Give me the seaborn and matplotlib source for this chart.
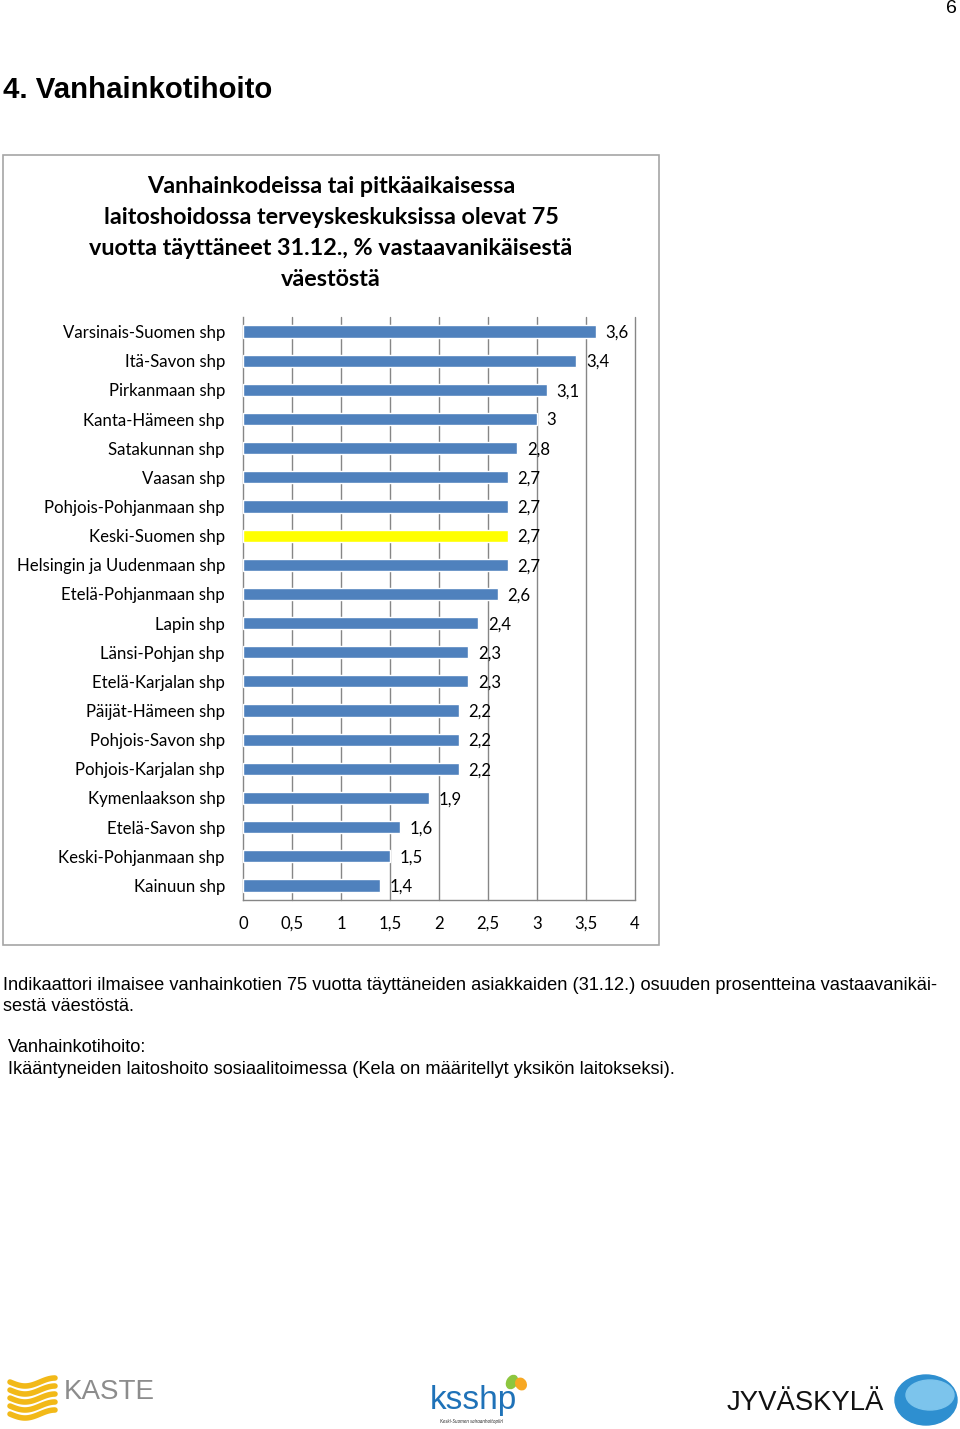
import numpy as np
import pandas as pd
import matplotlib
matplotlib.use("Agg")
import matplotlib.pyplot as plt
import seaborn as sns
from matplotlib.patches import Rectangle, Ellipse

sns.set_theme(style="white")
plt.rcParams['font.family'] = ['Lato', 'DejaVu Sans']

categories = ["Varsinais-Suomen shp", "Itä-Savon shp", "Pirkanmaan shp", "Kanta-Hämeen shp",
              "Satakunnan shp", "Vaasan shp", "Pohjois-Pohjanmaan shp", "Keski-Suomen shp",
              "Helsingin ja Uudenmaan shp", "Etelä-Pohjanmaan shp", "Lapin shp", "Länsi-Pohjan shp",
              "Etelä-Karjalan shp", "Päijät-Hämeen shp", "Pohjois-Savon shp", "Pohjois-Karjalan shp",
              "Kymenlaakson shp", "Etelä-Savon shp", "Keski-Pohjanmaan shp", "Kainuun shp"]
values = [3.6, 3.4, 3.1, 3.0, 2.8, 2.7, 2.7, 2.7, 2.7, 2.6, 2.4, 2.3, 2.3, 2.2, 2.2, 2.2, 1.9, 1.6, 1.5, 1.4]
highlight = "Keski-Suomen shp"
x_ticks = [0, 0.5, 1, 1.5, 2, 2.5, 3, 3.5, 4]
x_tick_labels = ["0", "0,5", "1", "1,5", "2", "2,5", "3", "3,5", "4"]

title_lines = ["Vanhainkodeissa tai pitkäaikaisessa",
               "laitoshoidossa terveyskeskuksissa olevat 75",
               "vuotta täyttäneet 31.12., % vastaavanikäisestä",
               "väestöstä"]

df = pd.DataFrame({"alue": categories, "arvo": values})
df["ryhma"] = np.where(df["alue"] == highlight, "korostus", "muu")

W, H = 960, 1429
fig = plt.figure(figsize=(W / 100, H / 100), dpi=100)
fig.patch.set_facecolor("white")

# overlay in pixel coordinates
ov = fig.add_axes([0, 0, 1, 1], zorder=0)
ov.set_xlim(0, W)
ov.set_ylim(H, 0)
ov.axis("off")

# chart frame
ov.add_patch(Rectangle((3, 155), 656, 790, fill=False, edgecolor="#A6A6A6", linewidth=1.2))

# page texts
ov.text(951, 8, "6", fontsize=14, family=["Liberation Sans"], ha="center", va="center", color="black")
ov.text(3, 90, "4. Vanhainkotihoito", fontsize=21.2, fontweight="bold", family=["Liberation Sans"],
        ha="left", va="center", color="black")
for k, line in enumerate(title_lines):
    ov.text(331, 186 + 31 * k, line, fontsize=16.8, fontweight="bold", ha="center", va="center",
            color="black")

fkw = dict(fontsize=13.15, family=["Liberation Sans"], ha="left", va="center", color="black")
ov.text(3, 985, "Indikaattori ilmaisee vanhainkotien 75 vuotta täyttäneiden asiakkaiden (31.12.) osuuden prosentteina vastaavanikäi-", **fkw)
ov.text(3, 1006, "sestä väestöstä.", **fkw)
ov.text(8, 1048, "Vanhainkotihoito:", **fkw)
ov.text(8, 1069, "Ikääntyneiden laitoshoito sosiaalitoimessa (Kela on määritellyt yksikön laitokseksi).", **fkw)

# logos (approximate)
t = np.linspace(0, 1, 50)
for k in range(5):
    xs = 10 + 45 * t
    ys = 1382 + k * 8 + 4 * np.sin(t * np.pi * 1.5)
    ov.plot(xs, ys, color="#F2B918", linewidth=4, solid_capstyle="round")
ov.text(64, 1392, "KASTE", fontsize=20, color="#8C8C8C", family=["Liberation Sans"], ha="left", va="center")
ov.text(430, 1400, "ksshp", fontsize=24, color="#1F72B8", family=["Liberation Sans"], ha="left", va="center")
ov.add_patch(Ellipse((512, 1382), 10, 14, angle=30, color="#8DC63F"))
ov.add_patch(Ellipse((521, 1384), 10, 12, angle=-30, color="#F7A823"))
ov.text(472, 1421, "Keski-Suomen sairaanhoitopiiri", fontsize=3.5, style="italic", color="#333333",
        ha="center", va="center")
ov.text(727, 1403, "JYVÄSKYLÄ", fontsize=19.8, color="#111111", family=["Liberation Sans"],
        ha="left", va="center")
ov.add_patch(Ellipse((926, 1400), 62, 50, color="#2E8FD0"))
ov.add_patch(Ellipse((930, 1395), 48, 30, color="#7CC4EC"))

# chart axes
ax = fig.add_axes([243 / W, 1 - 900 / H, (635 - 243) / W, (900 - 317) / H], zorder=2)
ax.set_facecolor("none")
palette = {"muu": "#4F81BD", "korostus": "#FFFF00"}
sns.barplot(data=df, x="arvo", y="alue", hue="ryhma", palette=palette, orient="h",
            width=0.42, dodge=False, legend=False, ax=ax, saturation=1, zorder=3)

ax.set_xlim(0, 4)
ax.set_ylim(len(categories) - 0.5, -0.5)
ax.set_xticks(x_ticks)
ax.set_xticklabels(x_tick_labels)
ax.set_xlabel("")
ax.set_ylabel("")
for xv in x_ticks[1:]:
    ax.axvline(xv, color="#868686", linewidth=1, zorder=1, clip_on=False)
for s in ["top", "right"]:
    ax.spines[s].set_visible(False)
for s in ["left", "bottom"]:
    ax.spines[s].set_color("#868686")
    ax.spines[s].set_linewidth(1)
ax.tick_params(axis="y", which="major", length=0, pad=13, labelsize=12.1, colors="black")
ax.set_yticks(np.arange(-0.5, len(categories), 1), minor=True)
ax.tick_params(axis="y", which="minor", length=4, width=1, color="#868686", direction="out")
ax.tick_params(axis="x", which="major", length=4, width=1, color="#868686", direction="inout",
               pad=9.5, labelsize=12.1, labelcolor="black")

for i, v in enumerate(values):
    lab = f"{v:.1f}".replace(".", ",")
    if lab.endswith(",0"):
        lab = lab[:-2]
    ax.annotate(lab, (v, i), xytext=(7, -1), textcoords="offset points", ha="left", va="center",
                fontsize=12.1, color="black")

fig.savefig("out.png", dpi=100, facecolor="white")
